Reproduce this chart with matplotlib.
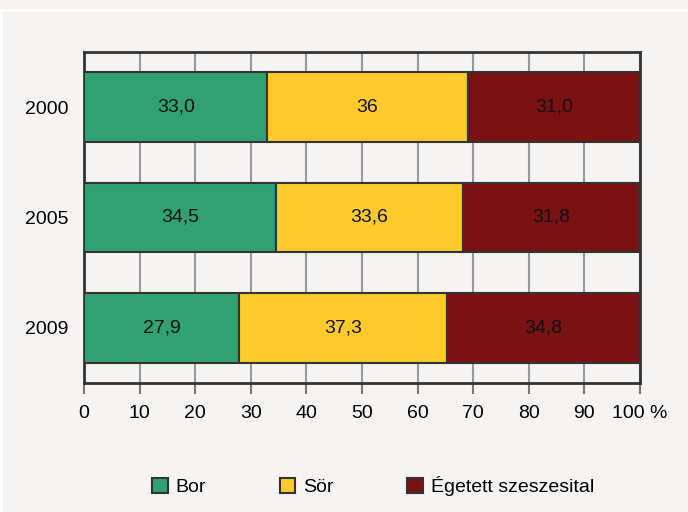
import matplotlib
matplotlib.use("Agg")
import matplotlib.pyplot as plt
from matplotlib.patches import Rectangle, Patch

years = ["2000", "2005", "2009"]
series_names = ["Bor", "Sör", "Égetett szeszesital"]
bor = [33.0, 34.5, 27.9]
sor = [36.0, 33.6, 37.3]
eget = [31.0, 31.8, 34.8]
labels_bor = ["33,0", "34,5", "27,9"]
labels_sor = ["36", "33,6", "37,3"]
labels_eget = ["31,0", "31,8", "34,8"]
xticks = [0, 10, 20, 30, 40, 50, 60, 70, 80, 90, 100]
xticklabels = ["0", "10", "20", "30", "40", "50", "60", "70", "80", "90", "100 %"]

colors = ["#31a174", "#ffca2c", "#7a1214"]
bg = "#f5f4f2"
dark = "#333333"
fs = 14

plt.rcParams["font.family"] = ["Liberation Sans", "DejaVu Sans"]

fig = plt.figure(figsize=(6.88, 5.12), dpi=100, facecolor=bg)
ax = fig.add_axes([84/688, 1-383/512, (640-84)/688, (383-52)/512])
ax.set_facecolor(bg)

y = list(range(len(years)))
h = 0.63
left = [0]*3
for vals, labs, c in [(bor, labels_bor, colors[0]), (sor, labels_sor, colors[1]), (eget, labels_eget, colors[2])]:
    bars = ax.barh(y, vals, left=left, height=h, color=c, edgecolor=dark, linewidth=1.5, zorder=3)
    for b, lab in zip(bars, labs):
        ax.text(b.get_x()+b.get_width()/2, b.get_y()+b.get_height()/2, lab,
                ha="center", va="center", fontsize=fs, color="#111111", zorder=4)
    left = [l+v for l, v in zip(left, vals)]

ax.set_xlim(0, 100)
ax.set_ylim(2.5, -0.5)
ax.set_yticks(y)
ax.set_yticklabels(years, fontsize=fs)
ax.set_xticks(xticks)
ax.set_xticklabels(xticklabels, fontsize=fs)
ax.tick_params(axis="y", length=0, pad=11)
ax.tick_params(axis="x", length=8, width=1.5, color="#777777", pad=8)
ax.grid(axis="x", color="#999999", linewidth=1.5, zorder=1)
for s in ax.spines.values():
    s.set_color(dark)
    s.set_linewidth(2)

handles = [Patch(facecolor=c, edgecolor=dark, linewidth=1.5, label=n) for c, n in zip(colors, series_names)]
fig.legend(handles=handles, loc="center", bbox_to_anchor=(373/688, 1-486/512), ncol=3,
           frameon=False, fontsize=fs, handlelength=0.8, handleheight=0.8,
           columnspacing=3.8, handletextpad=0.4)

fig.add_artist(Rectangle((1/688, -0.1), 1.2, 1-10/512+0.1, transform=fig.transFigure,
                         fill=False, edgecolor="white", linewidth=2))

fig.savefig("out.png", dpi=100, facecolor=bg)
